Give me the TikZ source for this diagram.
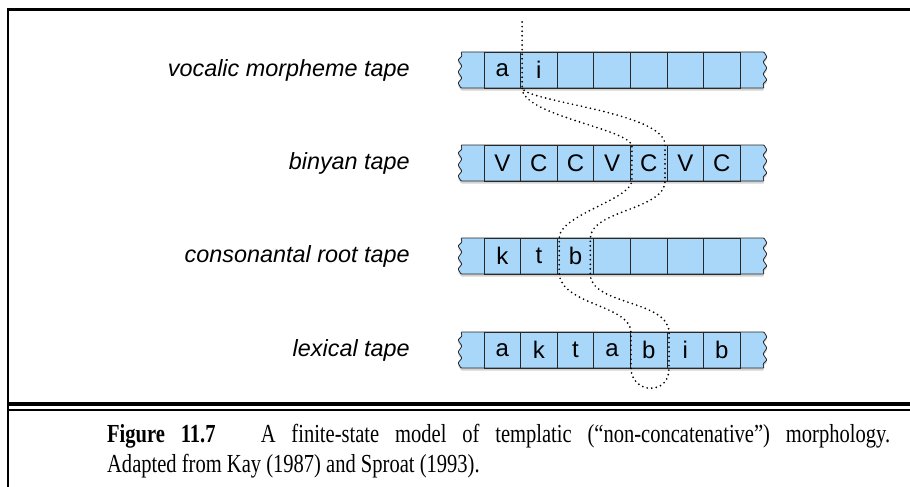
\documentclass[tikz,border=0pt]{standalone}
\usepackage{fontspec}
\setmainfont{Liberation Serif}
\newfontfamily\tapefont{Liberation Sans}
\usetikzlibrary{shadows,calc}
\definecolor{tapeblue}{RGB}{168,215,250}
\definecolor{tapeline}{RGB}{40,40,40}

\begin{document}
\begin{tikzpicture}[
  x=1pt, y=-1pt,
  tapebody/.style={fill=tapeblue, draw=tapeline, line width=0.8pt,
                   rounded corners=0.8pt,
                   drop shadow={shadow xshift=0pt,shadow yshift=-2.5pt,opacity=0.35}},
  cell/.style={rectangle, draw=tapeline, line width=0.8pt,
               minimum width=36.6pt, minimum height=36pt,
               inner sep=0pt, outer sep=0pt,
               font=\tapefont\fontsize{24}{24}\selectfont},
  tapelabel/.style={anchor=east, inner sep=0pt,
                    font=\tapefont\itshape\fontsize{23.4}{24}\selectfont},
  track/.style={line width=1.9pt, line cap=round, dash pattern=on 0pt off 4.6pt},
  frame/.style={line width=2.2pt},
  caption/.style={anchor=north west, inner sep=0pt, xscale=0.79, transform shape,
                  text width=991pt, align=justify,
                  font=\fontsize{26}{29.5}\selectfont},
]
\useasboundingbox (0,0) rectangle (910,487);

%% page frame and rule above the caption
\coordinate (ftr) at (910,9.5);
\coordinate (ftl) at (8,9.5);
\coordinate (fbl) at (8,487);
\draw[frame] (ftr) -- (ftl) -- (fbl);
\draw[line width=4pt]   (8,404) -- (910,404);
\draw[line width=1.8pt] (8,410) -- (910,410);

%% tape bodies with torn ends
\foreach \y in {70,163,256,350}
  \path[tapebody] (461,\y-18) -- (764,\y-18)
     -- (767,\y-13) -- (763,\y-8) -- (767,\y-2) -- (763,\y+4)
     -- (767,\y+10) -- (763,\y+14) -- (764,\y+18)
     -- (461,\y+18)
     -- (458,\y+13) -- (462,\y+8) -- (458,\y+2) -- (462,\y-4)
     -- (458,\y-10) -- (462,\y-14) -- cycle;

% cells
\foreach \s [count=\i] in {a,i,{},{},{},{},{}}
  \node[cell] (voc\i) at ({484+36.6*(\i-0.5)},70) {\s};
\foreach \s [count=\i] in {V,C,C,V,C,V,C}
  \node[cell] (bin\i) at ({484+36.6*(\i-0.5)},163) {\s};
\foreach \s [count=\i] in {k,t,b,{},{},{},{}}
  \node[cell] (root\i) at ({484+36.6*(\i-0.5)},256) {\s};
\foreach \s [count=\i] in {a,k,t,a,b,i,b}
  \node[cell] (lex\i) at ({484+36.6*(\i-0.5)},350) {\s};

% tape names
\node[tapelabel] (lblvoc)  at (410,70)  {vocalic morpheme tape};
\node[tapelabel] (lblbin)  at (410,163) {binyan tape};
\node[tapelabel] (lblroot) at (410,256) {consonantal root tape};
\node[tapelabel] (lbllex)  at (410,350) {lexical tape};

%% dotted track through the tapes
\coordinate (dA) at ([xshift=1.5pt]voc2.south west);
\coordinate (dB) at ([xshift=-2pt]bin5.north east);
\coordinate (dC) at ([xshift=-2pt]bin5.south east);
\coordinate (dD) at ([xshift=-3.5pt]root3.north east);
\coordinate (dE) at ([xshift=-3.5pt]root3.south east);
\coordinate (dF) at ([xshift=2pt]lex5.north east);
\coordinate (dG) at ([xshift=2pt]lex5.south east);
\coordinate (dH) at ([xshift=0.5pt]lex5.south west);
\coordinate (dI) at ([xshift=0.5pt]lex5.north west);
\coordinate (dJ) at ([xshift=2pt]root3.south west);
\coordinate (dK) at ([xshift=2pt]root3.north west);
\coordinate (dL) at ([xshift=1.5pt]bin5.south west);
\coordinate (dM) at ([xshift=1.5pt]bin5.north west);

\draw[track] ($(dA)+(0,-66)$) -- (dA)
  .. controls +(4,14) and +(0,-33) .. (dB) -- (dC)
  .. controls +(0,29) and +(1,-28) .. (dD) -- (dE)
  .. controls +(0,31) and +(-1,-32) .. (dF) -- (dG)
  .. controls +(1,27) and +(1,27) .. (dH) -- (dI)
  .. controls +(-1,-27) and +(3,31) .. (dJ) -- (dK)
  .. controls +(0,-23) and +(-2,19) .. (dL) -- (dM)
  .. controls +(-7,-17) and +(0,27) .. (dA);

%% caption
\node[caption] (cap) at (107,424) {\noindent\textbf{Figure 11.7}\hspace{2.2em}A finite-state
  model of templatic (“non-concatenative”) morphology.\linebreak
  Adapted from Kay (1987) and Sproat (1993).};

\end{tikzpicture}
\end{document}
